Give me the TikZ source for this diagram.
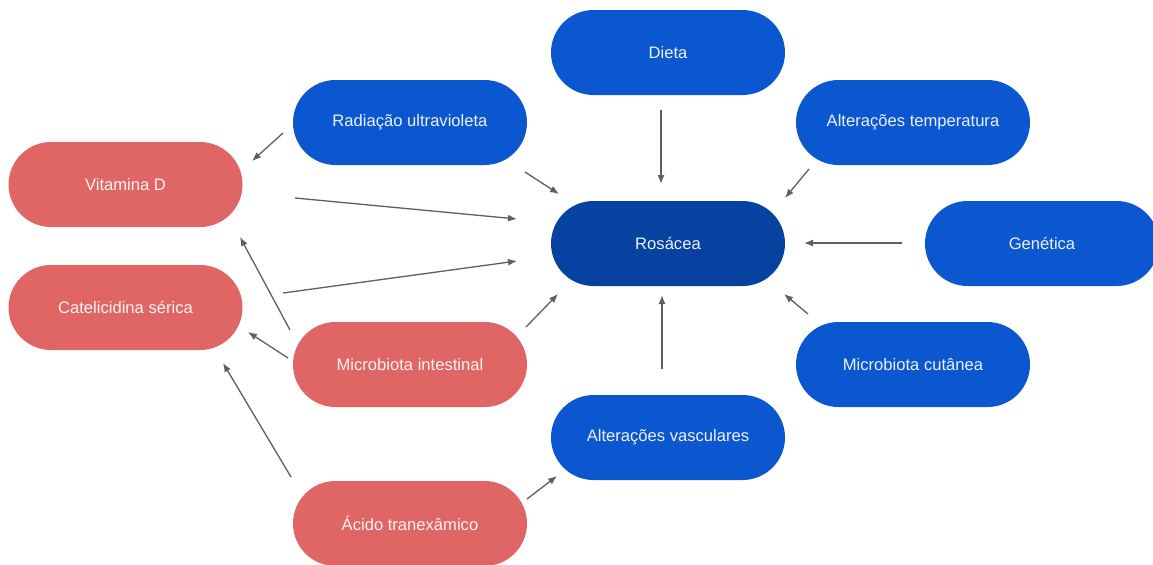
\documentclass[tikz,border=0pt]{standalone}
\usepackage{fontspec}
\setmainfont{Liberation Sans}
\usetikzlibrary{calc,arrows.meta}
\definecolor{nblue}{HTML}{0B57D0}
\definecolor{ndark}{HTML}{0842A0}
\definecolor{nred}{HTML}{E06666}
\definecolor{arrgray}{HTML}{5F5F5F}
\tikzset{
  pill/.style={rounded corners=21.25pt, minimum width=117pt, minimum height=42.5pt, inner sep=0pt,
    font=\fontsize{8.3pt}{10pt}\selectfont},
  bluepill/.style={pill, fill=nblue, text=white!92!nblue},
  darkpill/.style={pill, fill=ndark, text=white!92!ndark},
  redpill/.style={pill, fill=nred, text=white!92!nred},
  arr/.style={draw=arrgray, line width=0.65pt, -{Latex[length=4.5pt,width=3.5pt]}}
}
\begin{document}
\begin{tikzpicture}[x=0.5pt,y=-0.5pt]
\clip (0,0) rectangle (1153,564);
\fill[white] (0,0) rectangle (1153,564);
\node[bluepill] (dieta) at (668,52.5) {Dieta};
\node[bluepill] (rad) at (410,122.5) {Radiação ultravioleta};
\node[bluepill] (temp) at (913,122.5) {Alterações temperatura};
\node[redpill] (vitd) at (125.5,184.5) {Vitamina D};
\node[darkpill] (ros) at (668,243.5) {Rosácea};
\node[bluepill] (gen) at (1042,243.5) {Genética};
\node[redpill] (cat) at (125.5,307.5) {Catelicidina sérica};
\node[redpill] (micint) at (410,364.5) {Microbiota intestinal};
\node[bluepill] (miccut) at (913,364.5) {Microbiota cutânea};
\node[bluepill] (vasc) at (668,437.5) {Alterações vasculares};
\node[redpill] (acido) at (410,523.5) {Ácido tranexâmico};

\draw[arr] ($(dieta)+(-7,57.5)$) -- ($(ros)+(-7,-59.5)$);
\draw[arr] ($(rad)+(-127,10.5)$) -- ($(vitd)+(126.5,-23.5)$);
\draw[arr] ($(rad)+(115,49.5)$) -- ($(ros)+(-109,-49.5)$);
\draw[arr] ($(vitd)+(169.5,13.5)$) -- ($(ros)+(-151,-24.5)$);
\draw[arr] ($(cat)+(157.5,-14.5)$) -- ($(ros)+(-151,17.5)$);
\draw[arr] ($(micint)+(116,-37.5)$) -- ($(ros)+(-110,50.5)$);
\draw[arr] ($(micint)+(-120,-34.5)$) -- ($(vitd)+(114.5,52.5)$);
\draw[arr] ($(micint)+(-122,-6.5)$) -- ($(cat)+(122.5,24.5)$);
\draw[arr] ($(acido)+(-119,-46.5)$) -- ($(cat)+(97.5,55.5)$);
\draw[arr] ($(acido)+(117,-24.5)$) -- ($(vasc)+(-111,38.5)$);
\draw[arr] ($(vasc)+(-6,-68.5)$) -- ($(ros)+(-6,51.5)$);
\draw[arr] ($(temp)+(-104,46.5)$) -- ($(ros)+(117,-45.5)$);
\draw[arr] ($(gen)+(-140,-0.5)$) -- ($(ros)+(136,-0.5)$);
\draw[arr] ($(miccut)+(-105,-50.5)$) -- ($(ros)+(116,50.5)$);
\end{tikzpicture}
\end{document}
